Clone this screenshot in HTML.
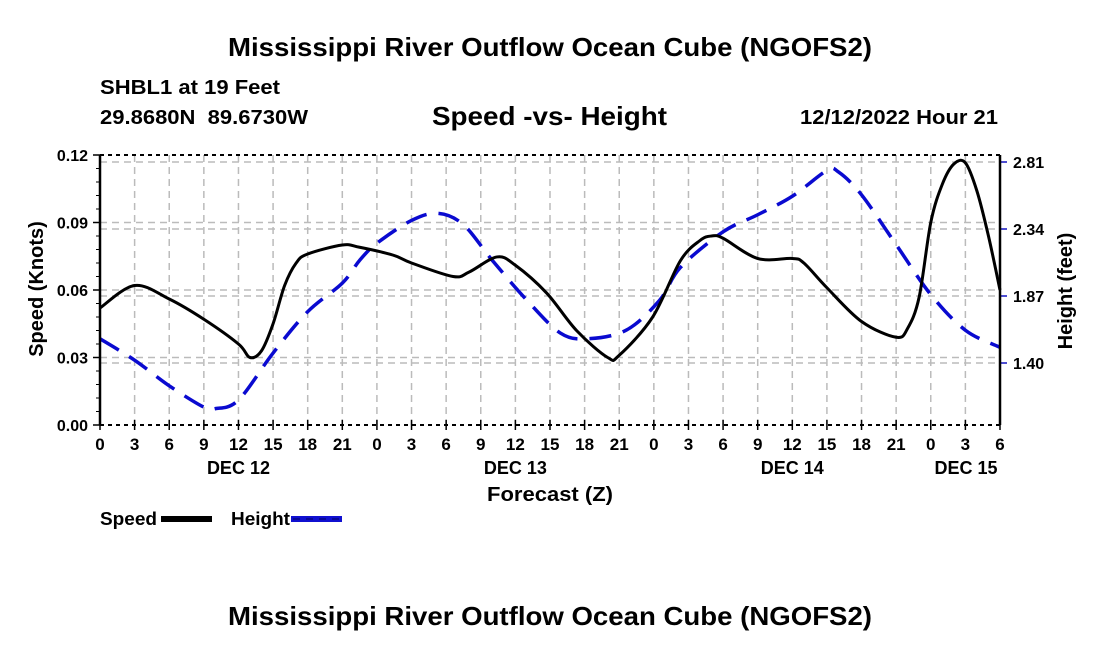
<!DOCTYPE html>
<html><head><meta charset="utf-8"><style>
body{margin:0;background:#fff;width:1100px;height:650px;overflow:hidden}
svg text{font-family:"Liberation Sans",Arial,sans-serif;font-weight:bold;fill:#000;white-space:pre}
</style></head><body>
<svg id="chart" width="1100" height="650" viewBox="0 0 1100 650" xmlns="http://www.w3.org/2000/svg">
<text x="228" y="56" font-size="26" textLength="644" lengthAdjust="spacingAndGlyphs">Mississippi River Outflow Ocean Cube (NGOFS2)</text>
<text x="100" y="94" font-size="20" textLength="180" lengthAdjust="spacingAndGlyphs">SHBL1 at 19 Feet</text>
<text x="100" y="124" font-size="20" textLength="208" lengthAdjust="spacingAndGlyphs">29.8680N  89.6730W</text>
<text x="432" y="125" font-size="26" textLength="235" lengthAdjust="spacingAndGlyphs">Speed -vs- Height</text>
<text x="800" y="124" font-size="20" textLength="198" lengthAdjust="spacingAndGlyphs">12/12/2022 Hour 21</text>
<g id="grid"></g>
<g id="series"></g>
<g id="axes"></g>
<text x="487" y="501" font-size="20" textLength="126" lengthAdjust="spacingAndGlyphs">Forecast (Z)</text>
<text transform="translate(43,289) rotate(-90)" font-size="20" text-anchor="middle">Speed (Knots)</text>
<text transform="translate(1072,291) rotate(-90)" font-size="20" text-anchor="middle">Height (feet)</text>
<g>
<text x="100" y="525" font-size="18" textLength="57" lengthAdjust="spacingAndGlyphs">Speed</text>
<rect x="161" y="516" width="51" height="6" fill="#000"/>
</g>
<g>
<text x="231" y="525" font-size="18" textLength="59" lengthAdjust="spacingAndGlyphs">Height</text>
<rect x="291" y="516" width="51" height="6" fill="#1010d0"/>
<line x1="293" y1="519" x2="341" y2="519" stroke="#000060" stroke-width="1" stroke-dasharray="7,6"/>
</g>
<text x="228" y="625" font-size="26" textLength="644" lengthAdjust="spacingAndGlyphs">Mississippi River Outflow Ocean Cube (NGOFS2)</text>
</svg>
<script>
const speedHours=[0,3,6,9,12,13,14,15,16,17,18,21,22.5,25.4,27,30.6,32,34.4,36,38.7,41.3,44,45,47.9,50.3,52,53,54,57,60,61,63,66,69,70,71,72,73,74,75,76,77,78];
const speedValues=[0.052,0.062,0.056,0.047,0.036,0.030,0.033,0.045,0.062,0.072,0.076,0.080,0.079,0.0755,0.072,0.066,0.068,0.0747,0.071,0.0587,0.042,0.030,0.031,0.048,0.073,0.082,0.084,0.083,0.074,0.074,0.072,0.061,0.046,0.039,0.043,0.057,0.090,0.107,0.116,0.1165,0.104,0.084,0.060];
const heightHours=[0,3,6,9,10,12,15,18,21,22.5,24,27,29.3,31.5,34,37,39.9,42.2,45.6,48.5,50.3,54,57,60,63,64,66,69,72,75,78];
const heightValues=[1.57,1.42,1.24,1.09,1.08,1.14,1.47,1.76,1.96,2.12,2.24,2.40,2.45,2.37,2.12,1.84,1.61,1.57,1.63,1.84,2.07,2.32,2.44,2.57,2.75,2.74,2.58,2.23,1.88,1.63,1.51];
const xTickLabels=["0","3","6","9","12","15","18","21","0","3","6","9","12","15","18","21","0","3","6","9","12","15","18","21","0","3","6"];
const dayLabels=["DEC 12","DEC 13","DEC 14","DEC 15"];
const speedTicks=[0,0.03,0.06,0.09,0.12];
const heightTicks=[1.40,1.87,2.34,2.81];

const L=100,R=1000,T=155,B=425;
const xs=h=>L+h*(R-L)/78;
const ySp=v=>B-v*(B-T)/0.12;
const yHt=h=>162+(2.81-h)*(67/0.47);
const NS="http://www.w3.org/2000/svg";
function mk(tag,attrs,parent){const e=document.createElementNS(NS,tag);for(const k in attrs)e.setAttribute(k,attrs[k]);parent.appendChild(e);return e;}
const grid=document.getElementById('grid'),axes=document.getElementById('axes'),series=document.getElementById('series');
const gs={stroke:"#bbb","stroke-width":1.5,"stroke-dasharray":"7,5",fill:"none"};
xTickLabels.forEach((t,i)=>{const x=xs(i*3);
 const g=mk('line',Object.assign({x1:x,y1:T,x2:x,y2:B},gs),grid);
 
 
 const tk=mk('line',{x1:x,y1:B-5,x2:x,y2:B+5,stroke:"#000","stroke-width":1.5},axes);
 
 
 const tx=mk('text',{x:x,y:B+25,"font-size":17,"text-anchor":"middle"},axes);tx.textContent=t;
 
 
});
dayLabels.forEach((d,i)=>{const tx=mk('text',{x:xs(12+24*i),y:B+49,"font-size":18,"text-anchor":"middle"},axes);tx.textContent=d;
 if(i===3)tx.setAttribute('x',966);
 
 
});
speedTicks.forEach(v=>{const y=ySp(v);
 if(v>0&&v<0.12){const g=mk('line',Object.assign({x1:L,y1:y,x2:R,y2:y},gs),grid);
 
 }
 const tk=mk('line',{x1:L-7,y1:y,x2:L,y2:y,stroke:"#000","stroke-width":1.5},axes);
 
 
 const tx=mk('text',{x:L-12,y:y+6,"font-size":16,"text-anchor":"end"},axes);tx.textContent=v.toFixed(2);
 
 
});
for(let v=0.006;v<0.12;v+=0.006){const y=ySp(v);const m=mk('line',{x1:L-4,y1:y,x2:L,y2:y,stroke:"#000","stroke-width":1},axes);
 
 }
heightTicks.forEach(v=>{const y=yHt(v);
 const g=mk('line',Object.assign({x1:L,y1:y,x2:R,y2:y},gs),grid);
 
 
 const tk=mk('line',{x1:R,y1:y,x2:R+7,y2:y,stroke:"#1010c0","stroke-width":1.5},axes);
 
 
 const tx=mk('text',{x:R+13,y:y+6,"font-size":16},axes);tx.textContent=v.toFixed(2);
 
 
});
const fr=[['line',{x1:L,y1:T,x2:L,y2:B}],['line',{x1:R,y1:T,x2:R,y2:B}]];
fr.forEach(f=>{const e=mk(f[0],Object.assign({stroke:"#000","stroke-width":2.5},f[1]),axes);
 
 });
[T,B].forEach(y=>{const e=mk('line',{x1:L,y1:y,x2:R,y2:y,stroke:"#000","stroke-width":2,"stroke-dasharray":"4,4"},axes);
 
 });
function path(hs,vs,yf){const p=hs.map((h,i)=>[xs(h),yf(vs[i])]);let d="M"+p[0][0]+","+p[0][1];
 for(let i=0;i<p.length-1;i++){const p0=p[Math.max(0,i-1)],p1=p[i],p2=p[i+1],p3=p[Math.min(p.length-1,i+2)];
  const c1=[p1[0]+(p2[0]-p0[0])/6,p1[1]+(p2[1]-p0[1])/6],c2=[p2[0]-(p3[0]-p1[0])/6,p2[1]-(p3[1]-p1[1])/6];
  d+=` C${c1[0]},${c1[1]} ${c2[0]},${c2[1]} ${p2[0]},${p2[1]}`;}
 return d;}
const hp=mk('path',{d:path(heightHours,heightValues,yHt),stroke:"#0a0ad0","stroke-width":3.5,fill:"none","stroke-dasharray":"22,12"},series);


const sp=mk('path',{d:path(speedHours,speedValues,ySp),stroke:"#000","stroke-width":3,fill:"none"},series);


</script>
</body></html>
